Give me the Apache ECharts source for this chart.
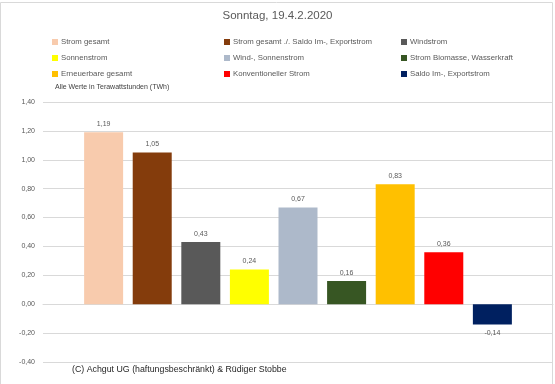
<!DOCTYPE html>
<html><head><meta charset="utf-8">
<script src="https://cdn.jsdelivr.net/npm/echarts@6/dist/echarts.min.js"></script>
<style>html,body{margin:0;padding:0;background:#fff}#c{width:555px;height:384px}</style>
</head><body><div id="c"></div>
<script>
const title = 'Sonntag, 19.4.2.2020';
const seriesNames = ['Strom gesamt','Strom gesamt ./. Saldo Im-, Exportstrom','Windstrom','Sonnenstrom','Wind-, Sonnenstrom','Strom Biomasse, Wasserkraft','Erneuerbare gesamt','Konventioneller Strom','Saldo Im-, Exportstrom'];
const values = [1.19, 1.05, 0.43, 0.24, 0.67, 0.16, 0.83, 0.36, -0.14];
const colors = ['#F8CBAD','#843C0C','#595959','#FFFF00','#ADB9CA','#375623','#FFC000','#FF0000','#002060'];
const categories = [''];
const yTicks = {min: -0.4, max: 1.4, interval: 0.2};
const unitNote = 'Alle Werte in Terawattstunden (TWh)';
const copyright = '(C) Achgut UG (haftungsbeschränkt) & Rüdiger Stobbe';

const font = 'Liberation Sans';
const fmt = v => v.toFixed(2).replace('.', ',');
const chart = echarts.init(document.getElementById('c'), null, {renderer:'canvas'});

const legendCols = [[0,3,6],[1,4,7],[2,5,8]];
const legendLeft = [47, 219, 396];
const legends = legendCols.map((col, i) => ({
  orient: 'vertical', left: legendLeft[i], top: 33,
  itemWidth: 6, itemHeight: 6, itemGap: 8, icon: 'rect',
  selectedMode: false,
  textStyle: {fontFamily: font, fontSize: 7.8, color: '#595959', padding: [0,0,0,-2]},
  data: col.map(k => seriesNames[k])
}));

const series = seriesNames.map((name, i) => ({
  name, type: 'bar', barWidth: 39, barGap: '24.6%',
  itemStyle: {color: colors[i]},
  label: {show: true, position: values[i] < 0 ? 'bottom' : 'top', distance: 5,
    fontFamily: font, fontSize: 7, color: '#595959', formatter: p => fmt(p.value)},
  data: [values[i]]
}));

chart.setOption({
  animation: false,
  title: {text: title, left: 'center', top: 5,
    textStyle: {fontFamily: font, fontSize: 11.5, fontWeight: 'normal', color: '#595959'}},
  legend: legends,
  grid: {left: 43, right: 2, top: 102, bottom: 22, containLabel: false},
  xAxis: {type: 'category', data: categories, axisTick: {show: false}, axisLabel: {show: false},
    axisLine: {show: true, lineStyle: {color: '#d9d9d9'}}},
  yAxis: {type: 'value', min: yTicks.min, max: yTicks.max, interval: yTicks.interval,
    axisLine: {show: false}, axisTick: {show: false},
    splitLine: {lineStyle: {color: '#d9d9d9'}},
    axisLabel: {fontFamily: font, fontSize: 7, color: '#595959', margin: 8, formatter: fmt}},
  series,
  graphic: [
    {type: 'rect', shape: {x: 0.5, y: 2.5, width: 552, height: 400}, style: {fill: 'none', stroke: '#d9d9d9', lineWidth: 1}, silent: true},
    {type: 'text', left: 55, top: 84, style: {text: unitNote, fontFamily: font, fontSize: 7, fill: '#404040'}},
    {type: 'text', left: 72, top: 365, style: {text: copyright, fontFamily: font, fontSize: 8.8, fill: '#262626'}}
  ]
});
</script></body></html>
